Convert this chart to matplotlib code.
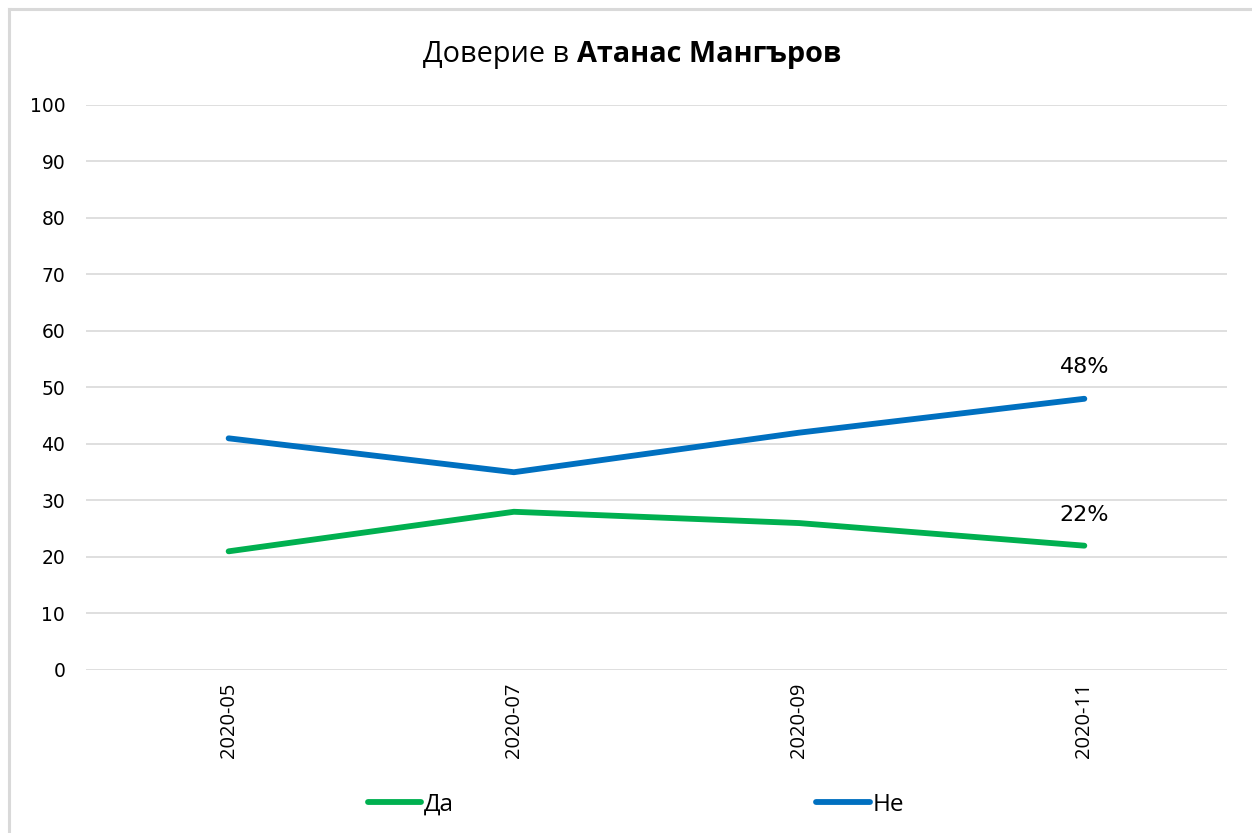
import matplotlib
matplotlib.use("Agg")
import matplotlib.pyplot as plt
from matplotlib.lines import Line2D

plt.rcParams['font.family'] = ['Open Sans', 'DejaVu Sans']

months = ['2020-05', '2020-07', '2020-09', '2020-11']
da = [21, 28, 26, 22]
ne = [41, 35, 42, 48]
yticks = list(range(0, 101, 10))

green = '#00B050'
blue = '#0070C0'
grid = '#D9D9D9'

fig = plt.figure(figsize=(12.52, 8.33), dpi=100)
ax = fig.add_axes([0.0687, 0.1957, 0.9113, 0.6783])

x = list(range(len(months)))
ax.plot(x, da, color=green, lw=4.2, solid_capstyle='round', label='Да')
ax.plot(x, ne, color=blue, lw=4.2, solid_capstyle='round', label='Не')

# labels on last point
ax.annotate(f'{da[-1]}%', (x[-1], da[-1]), xytext=(0, 22), textcoords='offset points',
            ha='center', va='center', fontsize=16, family=['DejaVu Sans'])
ax.annotate(f'{ne[-1]}%', (x[-1], ne[-1]), xytext=(0, 23), textcoords='offset points',
            ha='center', va='center', fontsize=16, family=['DejaVu Sans'])

ax.set_xlim(-0.5, len(months) - 0.5)
ax.set_ylim(0, 100)
ax.set_yticks(yticks)
ax.set_xticks(x)
ax.set_xticklabels(months, rotation=90, fontsize=14.5)
for lab in ax.get_yticklabels():
    lab.set_fontsize(13.5)
    lab.set_family(['DejaVu Sans'])
ax.tick_params(axis='both', length=0)
ax.tick_params(axis='y', pad=15)
ax.tick_params(axis='x', pad=9)
ax.yaxis.grid(True, color=grid, lw=1.2)
ax.set_axisbelow(True)
for s in ax.spines.values():
    s.set_visible(False)

leg = fig.legend(loc='center', bbox_to_anchor=(0.508, 0.034), ncol=2, frameon=False,
                 fontsize=17.5, handlelength=2.2, handletextpad=0.12, columnspacing=14.9)

# title with bold part
fig.canvas.draw()
r = fig.canvas.get_renderer()
t1 = fig.text(0, 0.934, 'Доверие в ', fontsize=20.8, va='center', ha='left')
t2 = fig.text(0, 0.934, 'Атанас Мангъров', fontsize=20.8, va='center', ha='left', weight='bold')
w1 = t1.get_window_extent(r).width
w2 = t2.get_window_extent(r).width
W = fig.bbox.width
start = 632 - (w1 + w2) / 2
t1.set_x(start / W)
t2.set_x((start + w1) / W)

# chart frame
fig.add_artist(Line2D([8.5 / 1252, 8.5 / 1252], [0, 1 - 8.5 / 833], transform=fig.transFigure,
                      color=grid, lw=2.2))
fig.add_artist(Line2D([8.5 / 1252, 1], [1 - 8.5 / 833, 1 - 8.5 / 833], transform=fig.transFigure,
                      color=grid, lw=2.2))

fig.savefig('out.png', dpi=100, facecolor='white')
